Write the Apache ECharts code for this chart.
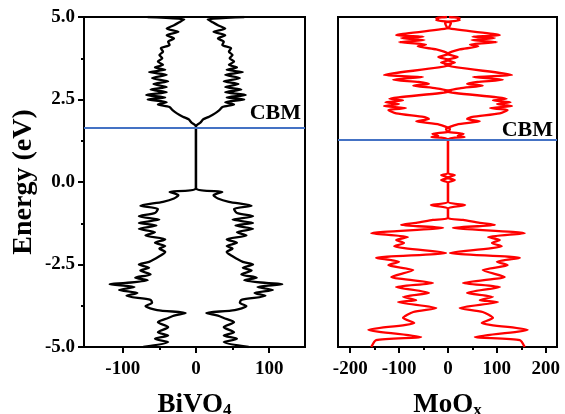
<!DOCTYPE html>
<html>
<head>
<meta charset="utf-8">
<script src="https://cdn.jsdelivr.net/npm/echarts@6/dist/echarts.min.js"></script>
<style>
  html, body { margin: 0; padding: 0; background: #fff; }
  #chart { width: 565px; height: 414px; }
</style>
</head>
<body>
<div id="chart"></div>
<script>
// Density of states, upper half (the plot mirrors it about zero)
const bivo4Energy = [5.0, 4.93, 4.85, 4.75, 4.65, 4.55, 4.45, 4.35, 4.25, 4.15, 4.05, 3.95, 3.85, 3.75, 3.65, 3.55, 3.47, 3.4, 3.33, 3.25, 3.15, 3.05, 2.97, 2.88, 2.8, 2.72, 2.64, 2.56, 2.5, 2.42, 2.35, 2.27, 2.18, 2.08, 1.98, 1.9, 1.8, 1.72, 1.66,
  -0.18, -0.3, -0.4, -0.5, -0.6, -0.72, -0.82, -0.94, -1.04, -1.14, -1.24, -1.32, -1.42, -1.52, -1.62, -1.74, -1.84, -1.94, -2.02, -2.12, -2.25, -2.42, -2.5, -2.6, -2.68, -2.8, -2.9, -2.98, -3.06, -3.1, -3.18, -3.27, -3.36, -3.45, -3.57, -3.66, -3.76, -3.88, -3.97, -4.05, -4.12, -4.25, -4.4, -4.55, -4.65, -4.75, -4.85, -5.0];
const bivo4Dos = [66, 16, 22, 30, 40, 24, 40, 30, 38, 36, 48, 45, 50, 46, 52, 45, 56, 42, 64, 40, 60, 38, 58, 40, 62, 40, 68, 42, 66, 40, 52, 36, 32, 26, 18, 10, 6, 1, 0,
  0, 36, 24, 30, 45, 76, 52, 56, 78, 50, 78, 54, 78, 56, 69, 42, 56, 42, 50, 42, 50, 64, 78, 64, 76, 62, 83, 66, 96, 118, 84, 105, 80, 95, 62, 60, 69, 53, 14, 30, 38, 52, 38, 52, 38, 56, 38, 72];

const moOxEnergy = [5.0, 4.97, 4.93, 4.9, 4.86, 4.82, 4.66, 4.45, 4.40, 4.36, 4.30, 4.24, 4.17, 4.11, 4.02, 3.95, 3.88, 3.79, 3.70, 3.62, 3.55, 3.24, 3.18, 3.10, 3.03, 2.97, 2.92, 2.84, 2.75, 2.52, 2.47, 2.42, 2.36, 2.30, 2.24, 2.18, 2.08, 1.97, 1.91, 1.84, 1.74, 1.60, 1.52, 1.46, 1.40, 1.36, 1.29,
  0.27, 0.21, 0.13, 0.06, -0.02, -0.60, -0.70, -0.80, -1.09, -1.15, -1.24, -1.30, -1.39, -1.55, -1.67, -1.76, -1.85, -1.95, -2.15, -2.30, -2.42, -2.52, -2.67, -2.88, -3.06, -3.18, -3.36, -3.48, -3.58, -3.64, -3.82, -3.94, -4.12, -4.27, -4.48, -4.70, -4.79, -5.0];
const moOxDos = [2, 24, 20, 24, 2, -6, 0, 106, 50, 96, 48, 100, 45, 62, 24, 8, -2, 20, -2, 14, -6, 131, 51, 112, 60, 39, 71, 24, -6, 120, 92, 128, 100, 131, 86, 122, 106, 50, 39, 65, 18, -4, 0, 32, 20, 34, 0,
  0, 14, -2, 14, 0, 0, 35, 0, 0, 31, 65, 96, 10, 157, 82, 106, 90, 110, 4, 147, 100, 122, 71, 116, 31, 106, 39, 92, 65, 102, 24, 71, 92, 69, 163, 55, 147, 157];

// Conduction band minimum of each material (eV)
const cbmLevels = [1.65, 1.27];

const bivo4Ticks = [-100, 0, 100];
const bivo4Minor = [-50, 50];
const moOxTicks = [-200, -100, 0, 100, 200];
const moOxMinor = [-150, -50, 50, 150];

const FONT = '"Liberation Serif", "Times New Roman", serif';

function mirrored(energy, dos, sign) {
  return energy.map((e, i) => [sign * dos[i], e]);
}

const labelStyle = { fontFamily: FONT, fontWeight: 'bold', fontSize: 19, color: '#000' };

function bottomAxis(grid, min, max, ticks, nameMain, nameSub) {
  return {
    type: 'value', gridIndex: grid, min: min, max: max, position: 'bottom',
    splitLine: { show: false },
    axisLine: { onZero: false, lineStyle: { color: '#000', width: 2 } },
    axisTick: { inside: false, length: 6, lineStyle: { width: 2, color: '#000' }, customValues: ticks },
    axisLabel: Object.assign({ margin: 13, customValues: ticks }, labelStyle),
    name: '{a|' + nameMain + '}{b|' + nameSub + '}',
    nameLocation: 'middle', nameGap: 45,
    nameTextStyle: {
      rich: {
        a: { fontFamily: FONT, fontWeight: 'bold', fontSize: 27, color: '#000', verticalAlign: 'bottom' },
        b: { fontFamily: FONT, fontWeight: 'bold', fontSize: 17, color: '#000', verticalAlign: 'bottom', lineHeight: 8 }
      }
    }
  };
}

function minorAxis(grid, min, max, ticks) {
  return {
    type: 'value', gridIndex: grid, min: min, max: max, position: 'bottom',
    splitLine: { show: false },
    axisLine: { show: false, onZero: false },
    axisTick: { length: 3, lineStyle: { width: 2, color: '#000' }, customValues: ticks },
    axisLabel: { show: false }
  };
}

function cbmMark(level, gap) {
  return {
    silent: true, symbol: 'none',
    lineStyle: { color: '#4472C4', width: 2, type: 'solid' },
    label: {
      show: true, position: 'insideEndTop', formatter: 'CBM', distance: [4, gap],
      fontFamily: FONT, fontWeight: 'bold', fontSize: 22, color: '#000'
    },
    data: [{ yAxis: level }]
  };
}

const gridBase = { top: 17, height: 330, show: true, borderColor: '#000', borderWidth: 2, backgroundColor: 'transparent', containLabel: false, outerBoundsMode: 'none' };

const chart = echarts.init(document.getElementById('chart'), null, { renderer: 'canvas' });
chart.setOption({
  backgroundColor: '#fff',
  animation: false,
  grid: [
    Object.assign({ left: 84, width: 221 }, gridBase),
    Object.assign({ left: 338, width: 219 }, gridBase)
  ],
  xAxis: [
    bottomAxis(0, -153, 149, bivo4Ticks, 'BiVO', '4'),
    bottomAxis(1, -225, 223, moOxTicks, 'MoO', 'x'),
    minorAxis(0, -153, 149, bivo4Minor),
    minorAxis(1, -225, 223, moOxMinor)
  ],
  yAxis: [
    {
      type: 'value', gridIndex: 0, min: -5, max: 5, interval: 2.5,
      splitLine: { show: false },
      axisLine: { onZero: false, lineStyle: { color: '#000', width: 2 } },
      axisTick: { length: 6, lineStyle: { width: 2, color: '#000' } },
      minorTick: { show: true, splitNumber: 2, length: 3, lineStyle: { width: 2, color: '#000' } },
      axisLabel: Object.assign({ margin: 9, formatter: v => v.toFixed(1) }, labelStyle),
      name: 'Energy (eV)', nameLocation: 'middle', nameGap: 46,
      nameTextStyle: { fontFamily: FONT, fontWeight: 'bold', fontSize: 28, color: '#000' }
    },
    {
      type: 'value', gridIndex: 1, min: -5, max: 5, interval: 2.5,
      splitLine: { show: false },
      axisLine: { onZero: false, lineStyle: { color: '#000', width: 2 } },
      axisTick: { show: false },
      axisLabel: { show: false }
    }
  ],
  series: [
    { type: 'line', xAxisIndex: 0, yAxisIndex: 0, data: mirrored(bivo4Energy, bivo4Dos, 1), smooth: 0.25, showSymbol: false, lineStyle: { color: '#000', width: 2.3 }, markLine: cbmMark(cbmLevels[0], 3) },
    { type: 'line', xAxisIndex: 0, yAxisIndex: 0, data: mirrored(bivo4Energy, bivo4Dos, -1), smooth: 0.25, showSymbol: false, lineStyle: { color: '#000', width: 2.3 } },
    { type: 'line', xAxisIndex: 1, yAxisIndex: 1, data: mirrored(moOxEnergy, moOxDos, 1), smooth: 0.2, showSymbol: false, lineStyle: { color: '#ff0000', width: 2.3 }, markLine: cbmMark(cbmLevels[1], -1) },
    { type: 'line', xAxisIndex: 1, yAxisIndex: 1, data: mirrored(moOxEnergy, moOxDos, -1), smooth: 0.2, showSymbol: false, lineStyle: { color: '#ff0000', width: 2.3 } }
  ]
});
</script>
</body>
</html>
